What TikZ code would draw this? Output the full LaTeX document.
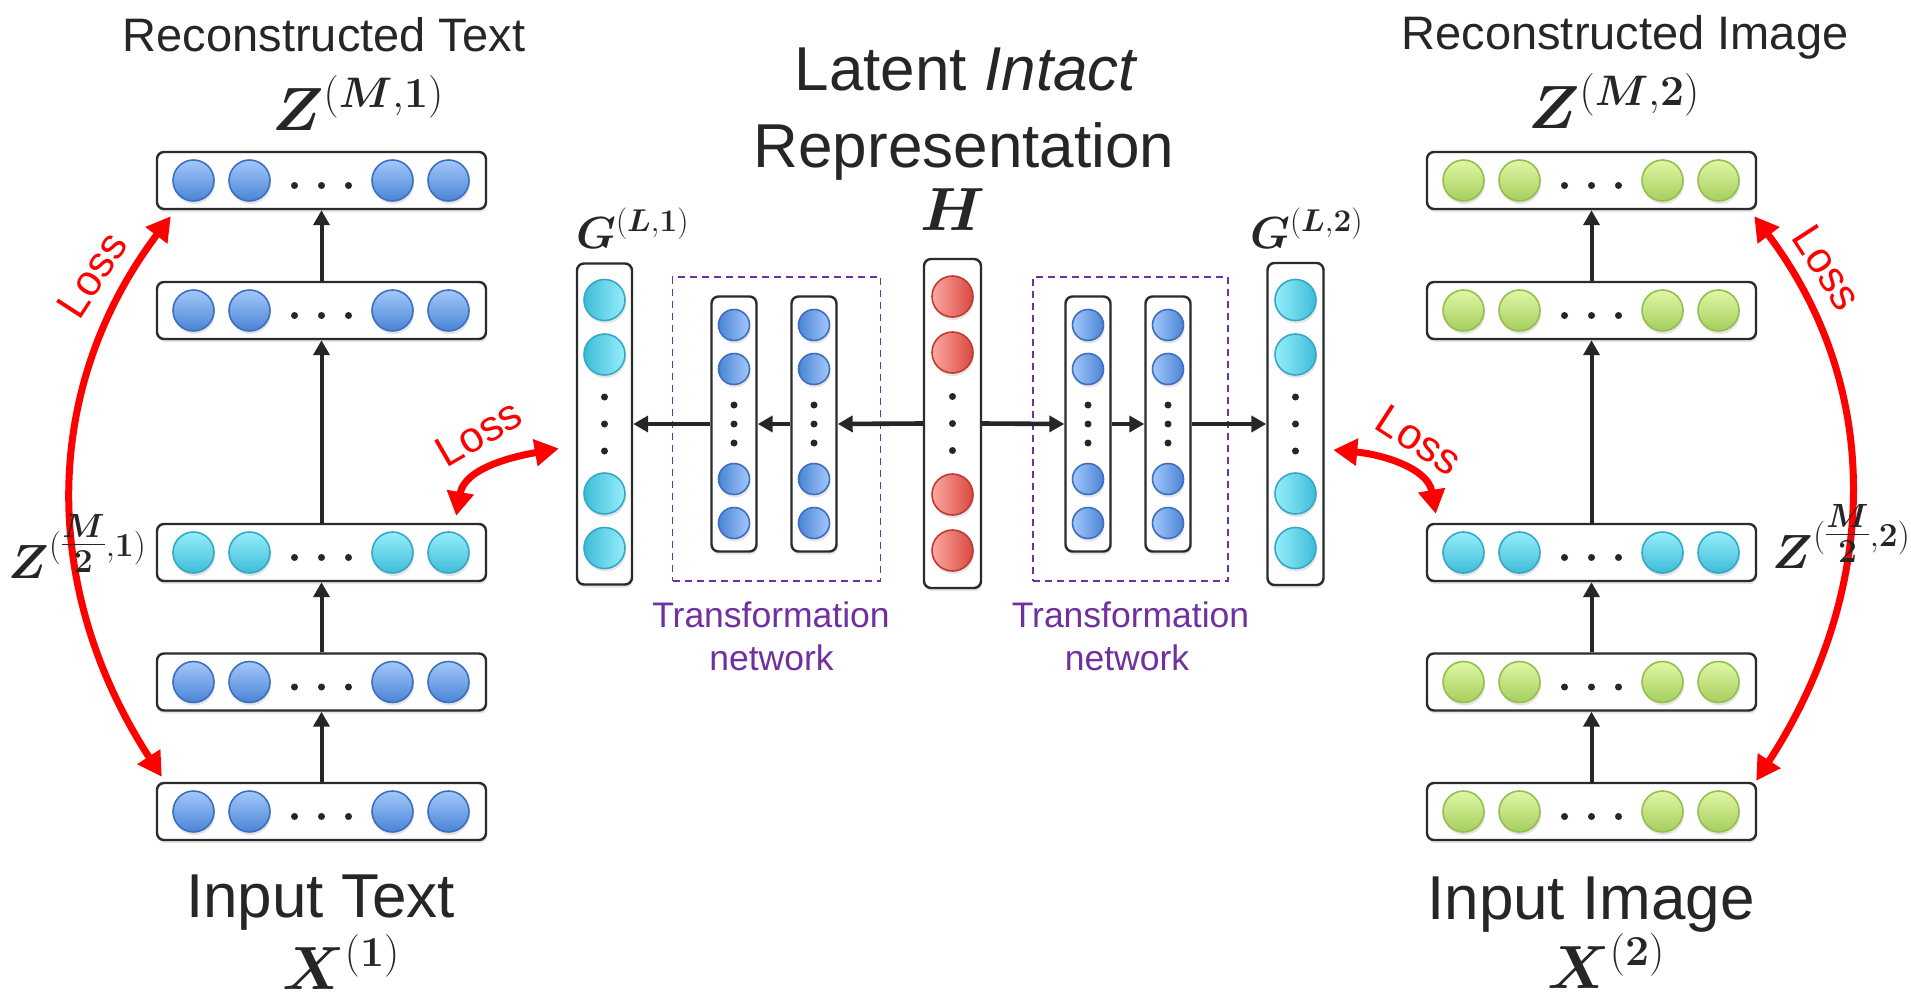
\RequirePackage{fix-cm}
\documentclass[tikz,border=0pt]{standalone}
\usepackage{amsmath}
\usepackage{bm}
\usepackage[no-math]{fontspec}
\setmainfont{Liberation Sans}
\usetikzlibrary{arrows.meta,shadows}

\definecolor{inkc}{HTML}{262626}
\definecolor{boxline}{HTML}{2B2B2B}
\definecolor{lossred}{HTML}{FF0000}
\definecolor{tfpurple}{HTML}{7030A0}
\definecolor{bluelt}{HTML}{A3C8FA}
\definecolor{bluedk}{HTML}{4A84D6}
\definecolor{blueedge}{HTML}{3D6FBE}
\definecolor{cyanlt}{HTML}{95EEFB}
\definecolor{cyandk}{HTML}{3FBCD8}
\definecolor{cyanedge}{HTML}{35A8C8}
\definecolor{greenlt}{HTML}{E0F7A6}
\definecolor{greendk}{HTML}{A6CE5E}
\definecolor{greenedge}{HTML}{94BE4E}
\definecolor{redlt}{HTML}{FBA8A2}
\definecolor{reddk}{HTML}{D9483E}
\definecolor{rededge}{HTML}{BF3A30}

\tikzset{
  softshadow/.style={drop shadow={shadow xshift=1pt, shadow yshift=-3pt, opacity=0.2}},
  layerbox/.style={draw=boxline, line width=2.4pt, rounded corners=7pt, fill=white, softshadow, inner sep=0pt},
  neuron/.style={circle, inner sep=0pt, minimum size=41pt, line width=1.6pt, softshadow},
  smallneuron/.style={neuron, minimum size=31pt},
  bluedown/.style={draw=blueedge, top color=bluelt, bottom color=bluedk},
  cyandown/.style={draw=cyanedge, top color=cyanlt, bottom color=cyandk},
  greendown/.style={draw=greenedge, top color=greenlt, bottom color=greendk},
  cyanleft/.style={draw=cyanedge, left color=cyandk, right color=cyanlt},
  cyanright/.style={draw=cyanedge, left color=cyanlt, right color=cyandk},
  blueleft/.style={draw=blueedge, left color=bluedk, right color=bluelt},
  blueright/.style={draw=blueedge, left color=bluelt, right color=bluedk},
  redright/.style={draw=rededge, left color=redlt, right color=reddk},
  dotc/.style={fill=inkc},
  fwd/.style={draw=inkc, line width=4pt, -{Triangle[length=15pt,width=16pt]}},
  hfwd/.style={fwd, line width=4.6pt},
  lossarrow/.style={draw=lossred, line width=7pt,
    {Triangle[length=24pt,width=26pt]}-{Triangle[length=24pt,width=26pt]}},
  tfbox/.style={draw=tfpurple, line width=1.6pt, dash pattern=on 7pt off 5pt, inner sep=0pt},
  caption/.style={text=inkc, inner sep=0pt, anchor=base},
  bigcap/.style={caption, font=\fontsize{62}{66}\selectfont},
  midcap/.style={caption, font=\fontsize{47}{50}\selectfont},
  tflabel/.style={text=tfpurple, inner sep=0pt, anchor=base, font=\fontsize{35.5}{40}\selectfont},
  losslabel/.style={text=lossred, inner sep=0pt, font=\fontsize{43}{43}\selectfont},
  mathbig/.style={caption, font=\fontsize{61}{61}\selectfont},
  mathmid/.style={caption, font=\fontsize{48}{48}\selectfont},
  mathsmall/.style={caption, font=\fontsize{45}{45}\selectfont},
}

% horizontal layer: name, x, y, neuron colour style
\newcommand\HLayer[4]{%
  \node[layerbox, minimum width=329pt, minimum height=57pt] (#1) at (#2,#3) {};
  \foreach \dx/\k in {-128/1,-72/2,71/3,127/4}
    \node[neuron, #4] (#1-\k) at ([xshift=\dx pt]#1.center) {};
  \foreach \dx in {-27,0,27}
    \fill[dotc] ([xshift=\dx pt, yshift=-5pt]#1.center) circle (3.5pt);
}

% vertical layer: name, x, y, width, height, neuron style, outer, inner, dot gap
\newcommand\VLayer[9]{%
  \node[layerbox, minimum width=#4pt, minimum height=#5pt] (#1) at (#2,#3) {};
  \foreach \dy/\k in {#7/1,#8/2,-#8/3,-#7/4}
    \node[#6] (#1-\k) at ([yshift=\dy pt]#1.center) {};
  \foreach \dy in {#9,0,-#9}
    \fill[dotc] ([yshift=\dy pt]#1.center) circle (3.5pt);
}

\begin{document}
\begin{tikzpicture}[x=1pt, y=1pt]
  \useasboundingbox[fill=white] (0,0) rectangle (1911,-998);

  % text branch
  \HLayer{T1}{321.5}{-180.5}{bluedown}
  \HLayer{T2}{321.5}{-310.5}{bluedown}
  \HLayer{T3}{321.5}{-552.5}{cyandown}
  \HLayer{T4}{321.5}{-682}{bluedown}
  \HLayer{T5}{321.5}{-811.5}{bluedown}
  \draw[fwd] (T5.north) -- (T4.south);
  \draw[fwd] (T4.north) -- (T3.south);
  \draw[fwd] (T3.north) -- (T2.south);
  \draw[fwd] (T2.north) -- (T1.south);

  % image branch
  \HLayer{R1}{1591.5}{-180.5}{greendown}
  \HLayer{R2}{1591.5}{-310.5}{greendown}
  \HLayer{R3}{1591.5}{-552.5}{cyandown}
  \HLayer{R4}{1591.5}{-682}{greendown}
  \HLayer{R5}{1591.5}{-811.5}{greendown}
  \draw[fwd] (R5.north) -- (R4.south);
  \draw[fwd] (R4.north) -- (R3.south);
  \draw[fwd] (R3.north) -- (R2.south);
  \draw[fwd] (R2.north) -- (R1.south);

  % transformation networks (dashed frames)
  \node[tfbox, minimum width=208pt, minimum height=304pt] (tfL) at (776.5,-429) {};
  \node[tfbox, minimum width=195pt, minimum height=304pt] (tfR) at (1130.5,-429) {};

  % latent columns
  \VLayer{G1}{604.5}{-424}{55}{321}{neuron, cyanleft}{124}{69.5}{27}
  \VLayer{L1}{734}{-424}{45}{255}{smallneuron, blueleft}{99}{55}{19}
  \VLayer{L2}{814}{-424}{45}{255}{smallneuron, blueleft}{99}{55}{19}
  \VLayer{H}{952.5}{-423.5}{57}{329}{neuron, redright}{127}{71}{27}
  \VLayer{Q1}{1088}{-424}{45}{255}{smallneuron, blueright}{99}{55}{19}
  \VLayer{Q2}{1168}{-424}{45}{255}{smallneuron, blueright}{99}{55}{19}
  \VLayer{G2}{1295.5}{-424}{56}{322}{neuron, cyanright}{124}{69.5}{27}

  \draw[hfwd] (H.west) -- (L2.east);
  \draw[hfwd] (L2.west) -- (L1.east);
  \draw[hfwd] (L1.west) -- (G1.east);
  \draw[hfwd] (H.east) -- (Q1.west);
  \draw[hfwd] (Q1.east) -- (Q2.west);
  \draw[hfwd] (Q2.east) -- (G2.west);

  % loss arrows
  \draw[lossarrow] ([shift={(6pt,5pt)}]T5.north west) to[out=123, in=233]
    ([shift={(15pt,-6pt)}]T1.south west);
  \draw[lossarrow] ([shift={(-1pt,1pt)}]R5.north east) to[out=57, in=-53]
    ([shift={(-3pt,-6pt)}]R1.south east);
  \draw[lossarrow] ([shift={(-31pt,7pt)}]T3.north east) to[out=80, in=190]
    ([shift={(-17pt,-24.5pt)}]G1.west);
  \draw[lossarrow] ([shift={(8.5pt,-26pt)}]G2.east) to[out=-5, in=100]
    ([shift={(10pt,9pt)}]R3.north west);

  \node[losslabel, rotate=57] (lossA) at (92,-275) {Loss};
  \node[losslabel, rotate=-57] (lossB) at (1827,-268) {Loss};
  \node[losslabel, rotate=30] (lossC) at (479,-433) {Loss};
  \node[losslabel, rotate=-33] (lossD) at (1419,-440) {Loss};

  % captions
  \node[midcap] (capRT) at (324,-52) {Reconstructed Text};
  \node[midcap] (capRI) at (1625,-50) {Reconstructed Image};
  \node[bigcap] (capIT) at (320.5,-917) {Input Text};
  \node[bigcap] (capII) at (1591,-919) {Input Image};
  \node[bigcap] (capLI) at (966.5,-90) {Latent \textit{Intact}};
  \node[bigcap] (capRep) at (964,-167) {Representation};

  \node[tflabel] (tfLa) at (771,-627) {Transformation};
  \node[tflabel] (tfLb) at (771.5,-670) {network};
  \node[tflabel] (tfRa) at (1130.5,-627) {Transformation};
  \node[tflabel] (tfRb) at (1127,-670) {network};

  % symbols
  \node[mathbig] (zM1) at (358,-130) {$\bm{Z}^{(\bm{M},\mathbf{1})}$};
  \node[mathbig] (zM2) at (1614,-128) {$\bm{Z}^{(\bm{M},\mathbf{2})}$};
  \node[mathbig] (x1) at (341,-989) {$\bm{X}^{(\mathbf{1})}$};
  \node[mathbig] (x2) at (1606,-988) {$\bm{X}^{(\mathbf{2})}$};
  \node[mathbig] (hsym) at (953,-230) {$\bm{H}$};
  \node[mathsmall] (g1) at (632.5,-248) {$\bm{G}^{(\bm{L},\mathbf{1})}$};
  \node[mathsmall] (g2) at (1306.5,-248) {$\bm{G}^{(\bm{L},\mathbf{2})}$};
  \node[mathmid] (zh1) at (77.5,-578) {$\bm{Z}^{(\tfrac{\bm{M}}{\mathbf{2}},\mathbf{1})}$};
  \node[mathmid] (zh2) at (1841.5,-568) {$\bm{Z}^{(\tfrac{\bm{M}}{\mathbf{2}},\mathbf{2})}$};
\end{tikzpicture}
\end{document}
